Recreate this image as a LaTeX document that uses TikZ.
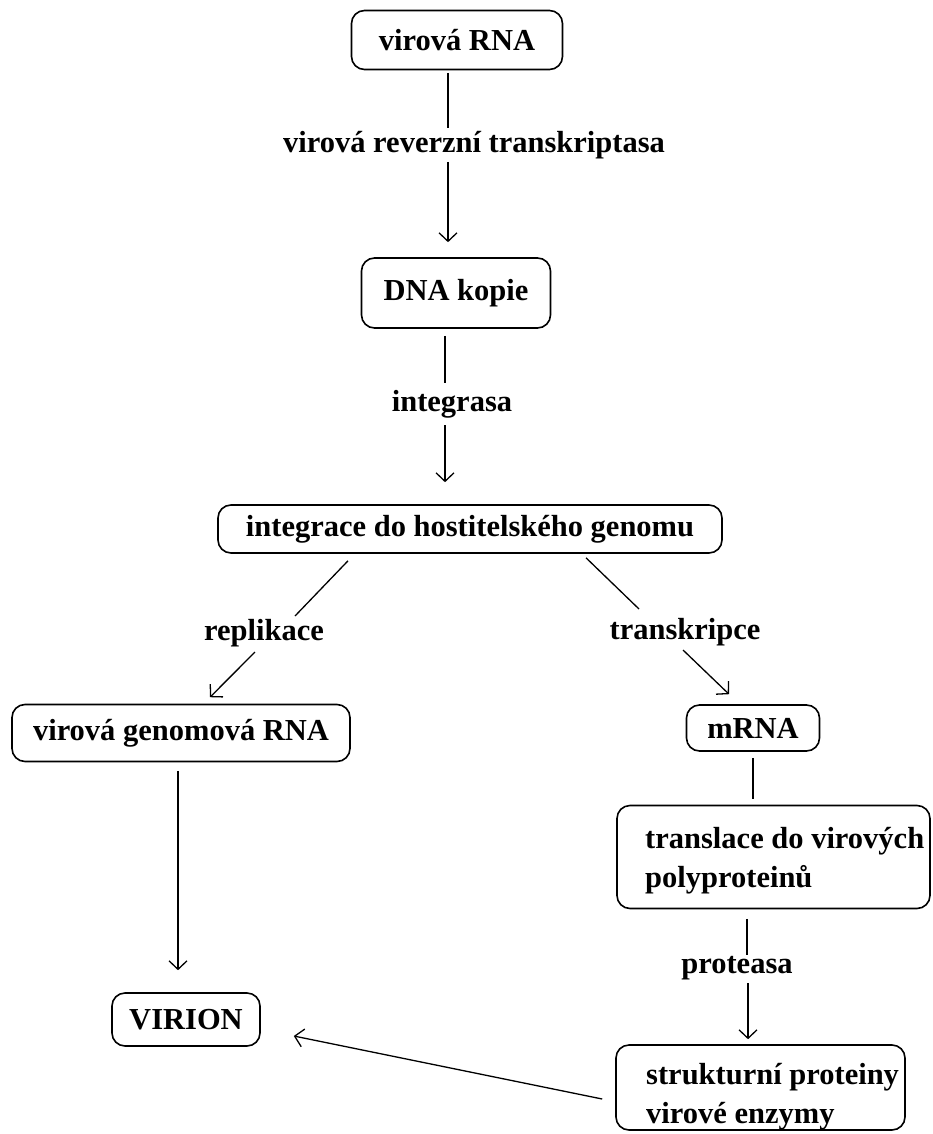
\documentclass[tikz,border=0pt]{standalone}
\usepackage{fontspec}
\setmainfont{Liberation Serif}
\usetikzlibrary{arrows.meta}
\newcommand\dgfont{\fontsize{30.5}{39}\selectfont\bfseries}
\tikzset{
  box/.style={draw, line width=1.6pt, rounded corners=13pt, inner sep=0pt, font=\dgfont},
  txt/.style={inner sep=0pt, align=left, anchor=west, font=\dgfont},
  lab/.style={inner sep=0pt, font=\dgfont},
  conn/.style={line width=1.3pt},
  arr/.style={conn, -{Straight Barb[length=8.5pt,width=18pt]}}
}
\begin{document}
\begin{tikzpicture}[x=1pt,y=-1pt]
\useasboundingbox[fill=white] (0,0) rectangle (932,1134);
% nodes
\node[box, minimum width=211pt, minimum height=59pt] (n1) at (457,40) {virová RNA};
\node[box, minimum width=189pt, minimum height=70pt] (n2) at (456,293) {DNA kopie};
\node[box, minimum width=504pt, minimum height=48pt] (n3) at (470,529) {integrace do hostitelského genomu};
\node[box, minimum width=338pt, minimum height=57pt] (n4) at (181,733) {virová genomová RNA};
\node[box, minimum width=133pt, minimum height=46pt] (n5) at (753,728) {mRNA};
\node[box, minimum width=313pt, minimum height=103pt] (n6) at (773.5,857) {};
\node[txt] (t6) at (645,861) {translace do virových\\polyproteinů};
\node[box, minimum width=289pt, minimum height=85pt] (n7) at (760.5,1087.5) {};
\node[txt] (t7) at (646,1097) {strukturní proteiny\\virové enzymy};
\node[box, minimum width=148pt, minimum height=53pt] (n8) at (186,1019.5) {VIRION};
% labels
\node[lab] (l1) at (474,145) {virová reverzní transkriptasa};
\node[lab] (l2) at (452,404) {integrasa};
\node[lab] (l3) at (264,633) {replikace};
\node[lab] (l4) at (685,632) {transkripce};
\node[lab] (l5) at (737,968) {proteasa};
% connectors
\draw[conn] ([shift={(-9,2.5)}]n1.south) -- ([shift={(-26,-17)}]l1.center);
\draw[arr] ([shift={(-26,17)}]l1.center) -- ([shift={(-8,-15)}]n2.north);
\draw[conn] ([shift={(-11,7)}]n2.south) -- ([shift={(-7,-21)}]l2.center);
\draw[arr] ([shift={(-7,21)}]l2.center) -- ([shift={(-25,-22)}]n3.north);
\draw[conn] ([shift={(-122,7)}]n3.south) -- ([shift={(31,-17)}]l3.center);
\draw[arr] ([shift={(-9,19)}]l3.center) -- ([shift={(29,-6.5)}]n4.north);
\draw[conn] ([shift={(116,4)}]n3.south) -- ([shift={(-46,-23)}]l4.center);
\draw[arr] ([shift={(-2,18)}]l4.center) -- ([shift={(-24,-10)}]n5.north);
\draw[arr] ([shift={(-3,8.5)}]n4.south) -- ([shift={(-8,-22)}]n8.north);
\draw[conn] ([shift={(0,6)}]n5.south) -- ([shift={(-20.5,-5.5)}]n6.north);
\draw[conn] ([shift={(-26.5,9.5)}]n6.south) -- ([shift={(10,-13)}]l5.center);
\draw[arr] ([shift={(11,15)}]l5.center) -- ([shift={(-12.5,-5)}]n7.north);
\draw[arr] ([shift={(-13,11.5)}]n7.west) -- ([shift={(33,16.5)}]n8.east);
\end{tikzpicture}
\end{document}
